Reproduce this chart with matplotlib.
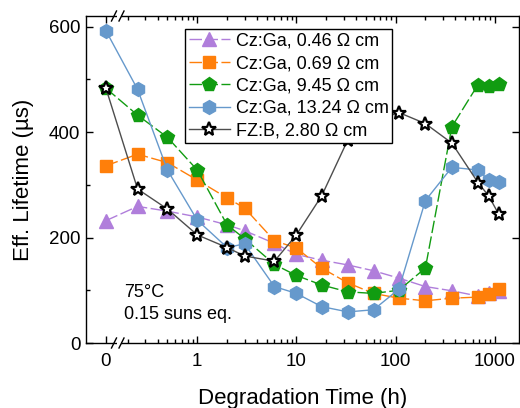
import matplotlib
matplotlib.use("Agg")
import matplotlib.pyplot as plt
from matplotlib.patches import Rectangle
from matplotlib.lines import Line2D

plt.rcParams['font.family'] = ['Liberation Sans', 'DejaVu Sans']

# ---- data ----
times = [0, 0.25, 0.5, 1, 2, 3, 6, 10, 18, 33, 60, 108, 200, 370, 680, 870, 1100]
zero_pos = 0.12  # plotting position of t = 0 on the broken log axis

cz_046 = [232, 259, 250, 239, 224, 213, 189, 168, 157, 148, 137, 123, 107, 99, 89, 94, 98]
cz_069 = [336, 358, 342, 309, 275, 256, 194, 180, 142, 114, 94, 85, 80, 85, 87, 92, 102]
cz_945 = [483, 432, 390, 328, 224, 198, 149, 128, 110, 97, 94, 100, 142, 410, 490, 488, 491]
cz_1324 = [592, 481, 328, 233, 181, 188, 107, 94, 69, 59, 63, 102, 270, 333, 328, 309, 305]
fz_280 = [483, 292, 254, 205, 181, 165, 155, 205, 279, 385, 420, 437, 416, 379, 304, 279, 244]

labels = ["Cz:Ga, 0.46 Ω cm", "Cz:Ga, 0.69 Ω cm", "Cz:Ga, 9.45 Ω cm",
          "Cz:Ga, 13.24 Ω cm", "FZ:B, 2.80 Ω cm"]

xtick_vals = [0, 1, 10, 100, 1000]
xtick_labels = ["0", "1", "10", "100", "1000"]

# ---- figure ----
W, H = 520, 408
fig = plt.figure(figsize=(W / 100, H / 100), dpi=100)
L, R, B, T = 86, 519, 343, 16
ax = fig.add_axes([L / W, 1 - B / H, (R - L) / W, (B - T) / H])

xp = [zero_pos if t == 0 else t for t in times]

styles = [
    dict(color='#B07EDB', marker='^', ms=9.5, ls=(0, (9, 2.5)), mec='#B07EDB', mfc='#B07EDB'),
    dict(color='#FF7F0A', marker='s', ms=8, ls=(0, (9, 2.5)), mec='#FF7F0A', mfc='#FF7F0A'),
    dict(color='#119C11', marker='p', ms=10, ls=(0, (9, 2.5)), mec='#119C11', mfc='#119C11'),
    dict(color='#6699CC', marker='h', ms=10, ls='-', mec='#6699CC', mfc='#6699CC'),
    dict(color='#4D4D4D', marker='*', ms=10.5, ls='-', mec='black', mfc='white', mew=1.6),
]
series = [cz_046, cz_069, cz_945, cz_1324, fz_280]
for ys, st, lab in zip(series, styles, labels):
    ax.plot(xp, ys, lw=1.0, label=lab, **st)

ax.set_xscale('log')
ax.set_xlim(0.0755, 1760)
ax.set_ylim(0, 620)

ax.set_xticks([zero_pos if v == 0 else v for v in xtick_vals])
ax.set_xticklabels(xtick_labels)
minor = []
for dec in [0.1, 1, 10, 100]:
    for k in range(2, 10):
        minor.append(k * dec)
ax.set_xticks(minor, minor=True)
ax.set_xticklabels([], minor=True)
ax.set_yticks([0, 200, 400, 600])
ax.set_yticks([100, 300, 500], minor=True)

ax.tick_params(axis='both', which='both', direction='in', top=True, labelsize=13.5)
ax.tick_params(axis='y', which='minor', right=False)
ax.tick_params(axis='y', which='major', right=True)
ax.tick_params(which='major', length=5, width=1)
ax.tick_params(which='minor', length=3, width=1)
ax.tick_params(axis='x', pad=7)
ax.tick_params(axis='y', pad=4)
for s in ax.spines.values():
    s.set_linewidth(1.0)

ax.set_xlabel("Degradation Time (h)", fontsize=16, labelpad=13)
ax.set_ylabel("Eff. Lifetime (µs)", fontsize=16, labelpad=11)

ax.text((124 - L) / (R - L), (B - 284) / (B - T), "75°C\n0.15 suns eq.",
        transform=ax.transAxes, fontsize=13, va='top', ha='left', linespacing=1.35)

leg = ax.legend(loc='upper left', bbox_to_anchor=((185 - L) / (R - L), (B - 29) / (B - T)),
                fontsize=13, frameon=True, fancybox=False, edgecolor='black', framealpha=1,
                borderaxespad=0, borderpad=0.2, labelspacing=0.3,
                handlelength=2.3, handletextpad=0.3)
leg.get_frame().set_linewidth(1.0)

# ---- axis break marks ----
def px(x, y):
    return ((x - L) / (R - L), (B - y) / (B - T))

for ybase in (B, T):
    ax.add_patch(Rectangle(px(116.5, ybase + 2), (4.5) / (R - L), 4 / (B - T),
                           transform=ax.transAxes, clip_on=False,
                           facecolor='white', edgecolor='none', zorder=9))
    for cx in (114, 121.5):
        xa, ya = px(cx - 2.5, ybase + 5)
        xb, yb = px(cx + 2.5, ybase - 5)
        ax.add_line(Line2D([xa, xb], [ya, yb], transform=ax.transAxes,
                           color='black', lw=1.0, clip_on=False, zorder=10))

fig.savefig("out.png", dpi=100)
